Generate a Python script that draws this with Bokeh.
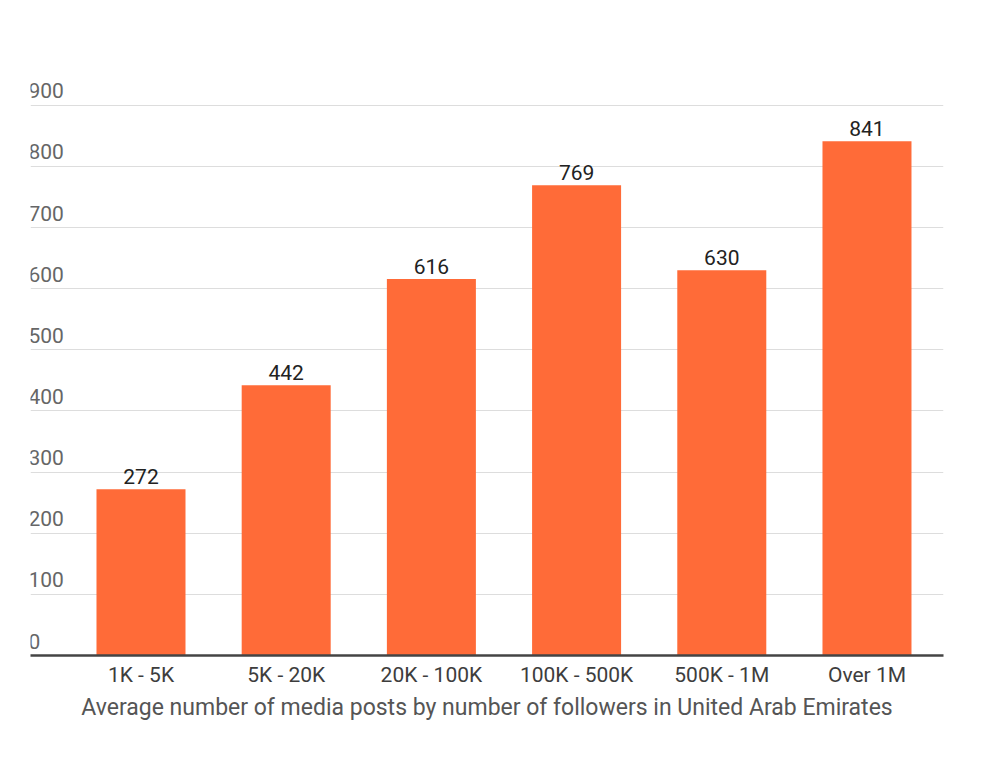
from bokeh.plotting import figure
from bokeh.models import ColumnDataSource, FixedTicker, LabelSet, Range1d
from bokeh.core.properties import value
from bokeh.embed import file_html
from bokeh.resources import INLINE

categories = ["1K - 5K", "5K - 20K", "20K - 100K", "100K - 500K", "500K - 1M", "Over 1M"]
posts = [272, 442, 616, 769, 630, 841]
y_ticks = [0, 100, 200, 300, 400, 500, 600, 700, 800, 900]
x_title = "Average number of media posts by number of followers in United Arab Emirates"

FONT = "Roboto"
BAR_COLOR = "#FF6B38"

xs = list(range(len(categories)))
src = ColumnDataSource(dict(x=xs, top=posts, label=[str(v) for v in posts]))

x_start, x_end = -0.761, 5.527
p = figure(width=980, height=745, output_backend="svg", toolbar_location=None,
           x_range=Range1d(x_start, x_end), y_range=Range1d(0, 965),
           min_border_left=30, min_border_right=37, min_border_top=65,
           min_border_bottom=90)
p.outline_line_color = None
p.background_fill_color = "white"
p.border_fill_color = "white"

p.vbar(x="x", top="top", width=0.613, source=src, color=BAR_COLOR, line_color=None)

# value labels above bars
p.add_layout(LabelSet(x="x", y="top", text="label", source=src,
                      text_align="center", text_baseline="alphabetic", y_offset=5,
                      text_font=value(FONT), text_font_size="21px",
                      text_color="#222222"))

# y tick labels sit above the grid lines, left aligned
tick_src = ColumnDataSource(dict(y=y_ticks, t=[str(v) for v in y_ticks]))
p.add_layout(LabelSet(x=x_start, y="y", text="t", source=tick_src,
                      text_align="left", text_baseline="alphabetic", y_offset=7,
                      x_offset=-2, text_font=value(FONT), text_font_size="21px",
                      text_color="#666666"))

p.yaxis.visible = False
p.yaxis.ticker = FixedTicker(ticks=y_ticks)
p.ygrid.ticker = FixedTicker(ticks=y_ticks)
p.ygrid.grid_line_color = "#dddddd"
p.xgrid.grid_line_color = None

p.xaxis.ticker = FixedTicker(ticks=xs)
p.xaxis.major_label_overrides = {i: c for i, c in zip(xs, categories)}
p.xaxis.major_tick_line_color = None
p.xaxis.minor_tick_line_color = None
p.xaxis.axis_line_color = "#444444"
p.xaxis.axis_line_width = 2.5
p.xaxis.major_label_standoff = 1
p.xaxis.major_label_text_font = FONT
p.xaxis.major_label_text_font_size = "21px"
p.xaxis.major_label_text_color = "#3d3d3d"
p.xaxis.axis_label = x_title
p.xaxis.axis_label_standoff = 4
p.xaxis.axis_label_text_font = FONT
p.xaxis.axis_label_text_font_size = "23px"
p.xaxis.axis_label_text_font_style = "normal"
p.xaxis.axis_label_text_color = "#555555"

open("out.html", "w").write(file_html(p, INLINE))
